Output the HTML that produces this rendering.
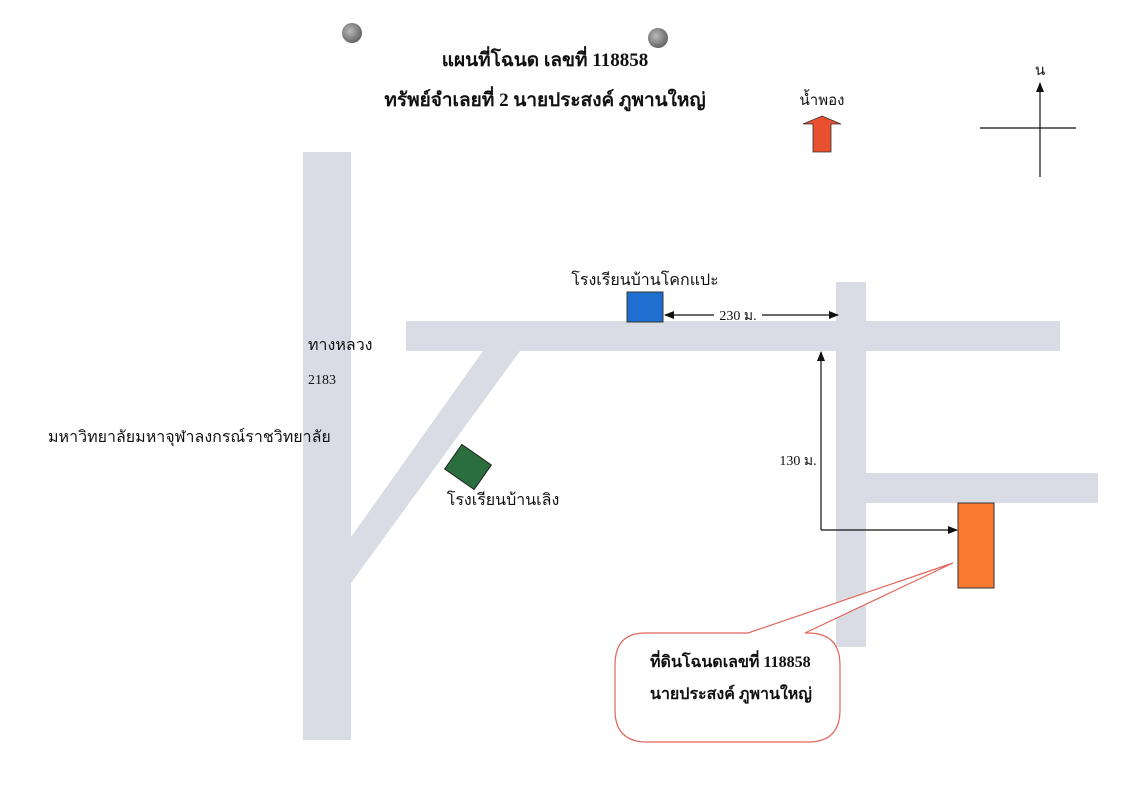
<!DOCTYPE html>
<html><head><meta charset="utf-8"><style>
html,body{margin:0;padding:0;background:#fff;}
svg{display:block;}
text{font-family:"Liberation Serif","DejaVu Serif","Noto Serif CJK SC",serif;fill:#111;}
</style></head><body>
<svg width="1132" height="800" viewBox="0 0 1132 800" xmlns="http://www.w3.org/2000/svg">
<defs>
<marker id="ah" markerWidth="10" markerHeight="8" refX="9" refY="4" orient="auto" markerUnits="userSpaceOnUse"><path d="M0,0 L10,4 L0,8 z" fill="#111"/></marker>
<radialGradient id="hole" cx="0.4" cy="0.4" r="0.6"><stop offset="0" stop-color="#bbb"/><stop offset="1" stop-color="#666"/></radialGradient>
</defs>
<rect width="1132" height="800" fill="#fff"/>
<circle cx="352" cy="33" r="10" fill="url(#hole)"/>
<circle cx="658" cy="38" r="10" fill="url(#hole)"/>
<text x="545" y="66" font-size="19" font-weight="bold" text-anchor="middle">แผนที่โฉนด เลขที่  118858</text>
<text x="545" y="106" font-size="19" font-weight="bold" text-anchor="middle">ทรัพย์จำเลยที่ 2 นายประสงค์ ภูพานใหญ่</text>
<!-- roads -->
<g fill="#d9dce4">
<rect x="303" y="152" width="48" height="588"/>
<rect x="406" y="321" width="654" height="30"/>
<polygon points="483,351 520,351 351,583 351,537"/>
<rect x="836" y="282" width="30" height="365"/>
<rect x="866" y="473" width="232" height="30"/>
</g>
<!-- buildings -->
<rect x="627" y="292" width="36" height="30" fill="#1f6fd0" stroke="#333" stroke-width="1"/>
<rect x="450" y="452" width="36" height="30" fill="#2a6e3e" stroke="#222" stroke-width="1" transform="rotate(35 468 467)"/>
<rect x="958" y="503" width="36" height="85" fill="#f97a30" stroke="#333" stroke-width="1"/>
<!-- dimension arrows -->
<line x1="714" y1="315" x2="665" y2="315" stroke="#111" stroke-width="1.2" marker-end="url(#ah)"/>
<line x1="762" y1="315" x2="838" y2="315" stroke="#111" stroke-width="1.2" marker-end="url(#ah)"/>
<text x="738" y="320" font-size="14" text-anchor="middle">230 ม.</text>
<polyline points="821,530 821,352" fill="none" stroke="#111" stroke-width="1.2" marker-end="url(#ah)"/>
<polyline points="821,530 957,530" fill="none" stroke="#111" stroke-width="1.2" marker-end="url(#ah)"/>
<text x="798" y="465" font-size="14" text-anchor="middle">130 ม.</text>
<!-- labels -->
<text x="645" y="285" font-size="16" text-anchor="middle">โรงเรียนบ้านโคกแปะ</text>
<text x="503" y="505" font-size="16" text-anchor="middle">โรงเรียนบ้านเลิง</text>
<text x="308" y="350" font-size="16">ทางหลวง</text>
<text x="308" y="384" font-size="14">2183</text>
<text x="48" y="442" font-size="16">มหาวิทยาลัยมหาจุฬาลงกรณ์ราชวิทยาลัย</text>
<!-- callout -->
<path d="M645,633 L748,633 L953,563 L805,633 L808,633 Q840,633 840,665 L840,710 Q840,742 808,742 L647,742 Q615,742 615,710 L615,665 Q615,633 645,633 Z" fill="#fff" stroke="#e0665a" stroke-width="1.2"/>
<text x="650" y="667" font-size="16" font-weight="bold">ที่ดินโฉนดเลขที่ 118858</text>
<text x="650" y="699" font-size="16" font-weight="bold">นายประสงค์ ภูพานใหญ่</text>
<!-- direction arrow -->
<text x="822" y="105" font-size="15" text-anchor="middle" style="font-family:'DejaVu Sans',sans-serif">น้ำพอง</text>
<polygon points="822,116 841,124 831,124 831,152 813,152 813,124 803,124" fill="#e8502f" stroke="#333" stroke-width="0.8"/>
<!-- north -->
<line x1="1040" y1="177" x2="1040" y2="83" stroke="#111" stroke-width="1.2" marker-end="url(#ah)"/>
<line x1="980" y1="128" x2="1076" y2="128" stroke="#111" stroke-width="1.2"/>
<text x="1040" y="75" font-size="15" text-anchor="middle" style="font-family:'DejaVu Sans',sans-serif">น</text>
</svg>
</body></html>
